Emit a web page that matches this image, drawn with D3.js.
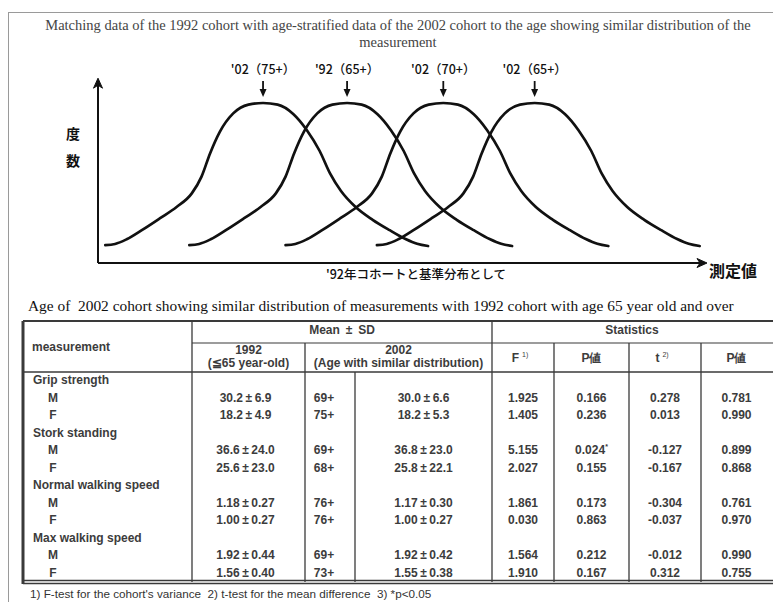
<!DOCTYPE html>
<html>
<head>
<meta charset="utf-8">
<script src="https://cdn.jsdelivr.net/npm/d3@7"></script>
<style>
  body { margin: 0; background: #fff; }
  svg { display: block; }
  text { white-space: pre; }
</style>
</head>
<body>
<svg id="chart" width="773" height="602"></svg>
<script>
// ---- diagram text ----
const titleLines = [
  "Matching data of the 1992 cohort with age-stratified data of the 2002 cohort to the age showing similar distribution of the",
  "measurement"
];
const yAxisChars = ["度", "数"];
const xAxisLabel = "測定値";
const baseNote = "'92年コホートと基準分布として";

// ---- distribution curves (measurement units 0–100, relative frequency 0–1) ----
const peakValues = [27.1, 40.9, 56.7, 71.7];
const peakLabels = ["'02（75+）", "'92（65+）", "'02（70+）", "'02（65+）"];
// one bell outline: offset from the peak and relative frequency
const shapeOffset = [-25.9, -24.3, -22.4, -19.7, -16.9, -14.2, -11.7, -10.1, -8.7, -7.1, -4.9, -2.4, 0,
                     2.4, 5.0, 7.2, 9.3, 11.0, 12.8, 15.2, 18.0, 20.8, 23.4, 25.3, 27.1];
const shapeFreq   = [0.112, 0.119, 0.148, 0.21, 0.28, 0.35, 0.435, 0.54, 0.685, 0.82, 0.935, 0.99, 1,
                     0.99, 0.93, 0.83, 0.70, 0.56, 0.45, 0.35, 0.27, 0.205, 0.15, 0.12, 0.106];

// ---- table ----
const tableTitle = "Age of  2002 cohort showing similar distribution of measurements with 1992 cohort with age 65 year old and over";
const groups = ["Grip strength", "Stork standing", "Normal walking speed", "Max walking speed"];
const sexes = ["M", "F"];
const mean1992 = ["30.2±6.9", "18.2±4.9", "36.6±24.0", "25.6±23.0", "1.18±0.27", "1.00±0.27", "1.92±0.44", "1.56±0.40"];
const ageMatched = ["69+", "75+", "69+", "68+", "76+", "76+", "69+", "73+"];
const mean2002 = ["30.0±6.6", "18.2±5.3", "36.8±23.0", "25.8±22.1", "1.17±0.30", "1.00±0.27", "1.92±0.42", "1.55±0.38"];
const fValues = ["1.925", "1.405", "5.155", "2.027", "1.861", "0.030", "1.564", "1.910"];
const fPValues = ["0.166", "0.236", "0.024*", "0.155", "0.173", "0.863", "0.212", "0.167"];
const tValues = ["0.278", "0.013", "-0.127", "-0.167", "-0.304", "-0.037", "-0.012", "0.312"];
const tPValues = ["0.781", "0.990", "0.899", "0.868", "0.761", "0.970", "0.990", "0.755"];
const footnote = "1) F-test for the cohort's variance  2) t-test for the mean difference  3) *p<0.05";

const svg = d3.select("#chart");
const ink = "#111";
const serif = "'Liberation Serif', 'Times New Roman', serif";
const sans = "'Liberation Sans', Arial, sans-serif";
const cjk = "'Noto Sans CJK JP', 'Noto Sans CJK SC', sans-serif";

svg.append("rect").attr("width", 773).attr("height", 602).attr("fill", "#fff");

// outer frame
svg.append("rect")
  .attr("x", 8.5).attr("y", 12.5).attr("width", 820).attr("height", 700)
  .attr("fill", "none").attr("stroke", "#9a9a9a").attr("stroke-width", 1);

// title
svg.append("g").selectAll("text").data(titleLines).join("text")
  .attr("x", 398).attr("y", (d, i) => 30 + i * 17)
  .attr("text-anchor", "middle")
  .attr("font-family", serif).attr("font-size", 14.5).attr("fill", "#444")
  .text(d => d);

// ---- distribution diagram ----
const x = d3.scaleLinear().domain([0, 100]).range([98, 707]);
const y = d3.scaleLinear().domain([0, 1]).range([263, 103]);

const axisG = svg.append("g").attr("stroke", ink).attr("stroke-width", 2);
const yTop = y(1.155);
axisG.append("line").attr("x1", x(0)).attr("x2", x(0)).attr("y1", y(0)).attr("y2", yTop + 3);
axisG.append("line").attr("x1", x(0)).attr("x2", x(100) - 3).attr("y1", y(0)).attr("y2", y(0));
svg.append("path")
  .attr("d", `M${x(0)},${yTop} L${x(0) - 4.5},${yTop + 10} L${x(0)},${yTop + 7} L${x(0) + 4.5},${yTop + 10} Z`)
  .attr("fill", ink).attr("stroke", ink).attr("stroke-width", 1).attr("stroke-linejoin", "round");
svg.append("path")
  .attr("d", `M${x(100)},${y(0)} L${x(100) - 10},${y(0) - 4.5} L${x(100) - 7},${y(0)} L${x(100) - 10},${y(0) + 4.5} Z`)
  .attr("fill", ink).attr("stroke", ink).attr("stroke-width", 1).attr("stroke-linejoin", "round");

// axis captions
svg.append("g").selectAll("text").data(yAxisChars).join("text")
  .attr("x", 73).attr("y", (d, i) => 139 + i * 27)
  .attr("text-anchor", "middle")
  .attr("font-family", cjk).attr("font-weight", 700).attr("font-size", 14).attr("fill", ink)
  .text(d => d);
svg.append("text")
  .attr("x", 709).attr("y", 277)
  .attr("font-family", cjk).attr("font-weight", 700).attr("font-size", 16).attr("fill", ink)
  .text(xAxisLabel);
svg.append("text")
  .attr("x", 416).attr("y", 279)
  .attr("text-anchor", "middle")
  .attr("font-family", cjk).attr("font-weight", 500).attr("font-size", 12.5).attr("fill", ink)
  .text(baseNote);

// bell curves
const bell = peak => shapeOffset.map((o, i) => [peak + o, shapeFreq[i]]);
const line = d3.line().x(d => x(d[0])).y(d => y(d[1])).curve(d3.curveMonotoneX);
svg.append("g").selectAll("path").data(peakValues).join("path")
  .attr("d", p => line(bell(p)))
  .attr("fill", "none").attr("stroke", ink).attr("stroke-width", 2.7)
  .attr("stroke-linecap", "round").attr("stroke-linejoin", "round");

// peak labels and arrows
const peakG = svg.append("g").selectAll("g").data(peakValues).join("g");
peakG.append("text")
  .attr("x", p => x(p)).attr("y", 74)
  .attr("text-anchor", "middle")
  .attr("font-family", cjk).attr("font-weight", 500).attr("font-size", 12.5).attr("fill", ink)
  .text((p, i) => peakLabels[i]);
peakG.append("line")
  .attr("x1", p => x(p)).attr("x2", p => x(p)).attr("y1", 81).attr("y2", 92)
  .attr("stroke", ink).attr("stroke-width", 1.8);
peakG.append("path")
  .attr("d", p => `M${x(p) - 3.5},${89} L${x(p) + 3.5},${89} L${x(p)},${97} Z`)
  .attr("fill", ink);

// ---- table ----
svg.append("text")
  .attr("x", 28).attr("y", 311)
  .attr("font-family", serif).attr("font-size", 15.4).attr("fill", ink)
  .text(tableTitle);

const colEdges = [23, 192, 305, 355, 492, 554, 629, 701, 776];
const tTop = 321, tMid = 343, tHead = 372, tBot = 582;
const lineCol = "#3a3a3a";
const tg = svg.append("g").attr("stroke", lineCol).attr("fill", "none");
// horizontal rules
tg.append("line").attr("x1", colEdges[0]).attr("x2", 776).attr("y1", tTop).attr("y2", tTop).attr("stroke-width", 2.2);
tg.append("line").attr("x1", colEdges[1]).attr("x2", 776).attr("y1", tMid).attr("y2", tMid).attr("stroke-width", 1.2);
tg.append("line").attr("x1", colEdges[0]).attr("x2", 776).attr("y1", tHead).attr("y2", tHead).attr("stroke-width", 1.4);
tg.append("line").attr("x1", colEdges[0]).attr("x2", 776).attr("y1", tBot - 1.5).attr("y2", tBot - 1.5).attr("stroke-width", 1.3);
tg.append("line").attr("x1", colEdges[0]).attr("x2", 776).attr("y1", tBot + 1.5).attr("y2", tBot + 1.5).attr("stroke-width", 1.3);
// vertical rules
tg.append("line").attr("x1", colEdges[0]).attr("x2", colEdges[0]).attr("y1", tTop).attr("y2", tBot + 2).attr("stroke-width", 3);
[[1, tTop], [2, tMid], [3, tHead], [4, tTop], [5, tMid], [6, tMid], [7, tMid]].forEach(([c, top]) => {
  tg.append("line").attr("x1", colEdges[c]).attr("x2", colEdges[c]).attr("y1", top).attr("y2", tBot)
    .attr("stroke-width", 1.3);
});

const mid = (a, b) => (colEdges[a] + colEdges[b]) / 2;
const cellText = (tx, ty, txt, anchor = "middle") => svg.append("text")
  .attr("x", tx).attr("y", ty).attr("text-anchor", anchor).attr("dominant-baseline", "central")
  .attr("font-family", sans).attr("font-weight", 700).attr("font-size", 12).attr("fill", "#3c3c3c")
  .text(txt);
// mean ± SD cells: the ± sign is set wide, as in the printed table
const pmText = (tx, ty, txt) => {
  const [a, b] = txt.split("±");
  const t = cellText(tx, ty, a);
  t.append("tspan").attr("dx", 2.5).text("±");
  t.append("tspan").attr("dx", 2.5).text(b);
  return t;
};

// header
cellText(32, 347, "measurement", "start");
pmText(mid(1, 4), 330, "Mean ± SD");
cellText(mid(4, 8) - 2, 330, "Statistics");
cellText(mid(1, 2), 350, "1992");
cellText(mid(1, 2), 363, "(≦65 year-old)");
cellText(mid(2, 4), 350, "2002");
cellText(mid(2, 4), 363, "(Age with similar distribution)");
const fHead = cellText(mid(4, 5) - 3, 358, "F");
fHead.append("tspan").attr("dx", 3).attr("dy", -4).attr("font-size", 7).attr("font-weight", 400).text("1)");
cellText(mid(5, 6), 358, "P値");
const tHeadText = cellText(mid(6, 7) - 3, 358, "t");
tHeadText.append("tspan").attr("dx", 3).attr("dy", -4).attr("font-size", 7).attr("font-weight", 400).text("2)");
cellText(mid(7, 8) - 2, 358, "P値");

// body rows
const rowStep = 17.5, firstRow = 380;
groups.forEach((g, gi) => {
  const gy = firstRow + gi * 3 * rowStep;
  cellText(33, gy, g, "start");
  sexes.forEach((s, si) => {
    const k = gi * 2 + si;
    const ry = gy + (si + 1) * rowStep;
    cellText(53, ry, s);
    pmText(mid(1, 2) - 3, ry, mean1992[k]);
    cellText(mid(2, 3) - 6, ry, ageMatched[k]);
    pmText(mid(3, 4), ry, mean2002[k]);
    cellText(mid(4, 5), ry, fValues[k]);
    const pv = fPValues[k];
    if (pv.endsWith("*")) {
      const tx = cellText(mid(5, 6), ry, pv.slice(0, -1));
      tx.append("tspan").attr("dy", -4).attr("font-size", 7).text("*");
    } else {
      cellText(mid(5, 6), ry, pv);
    }
    cellText(mid(6, 7), ry, tValues[k]);
    cellText(mid(7, 8) - 2, ry, tPValues[k]);
  });
});

// footnote
svg.append("text")
  .attr("x", 30).attr("y", 598)
  .attr("font-family", sans).attr("font-size", 11.7).attr("fill", "#333")
  .text(footnote);
</script>
</body>
</html>
